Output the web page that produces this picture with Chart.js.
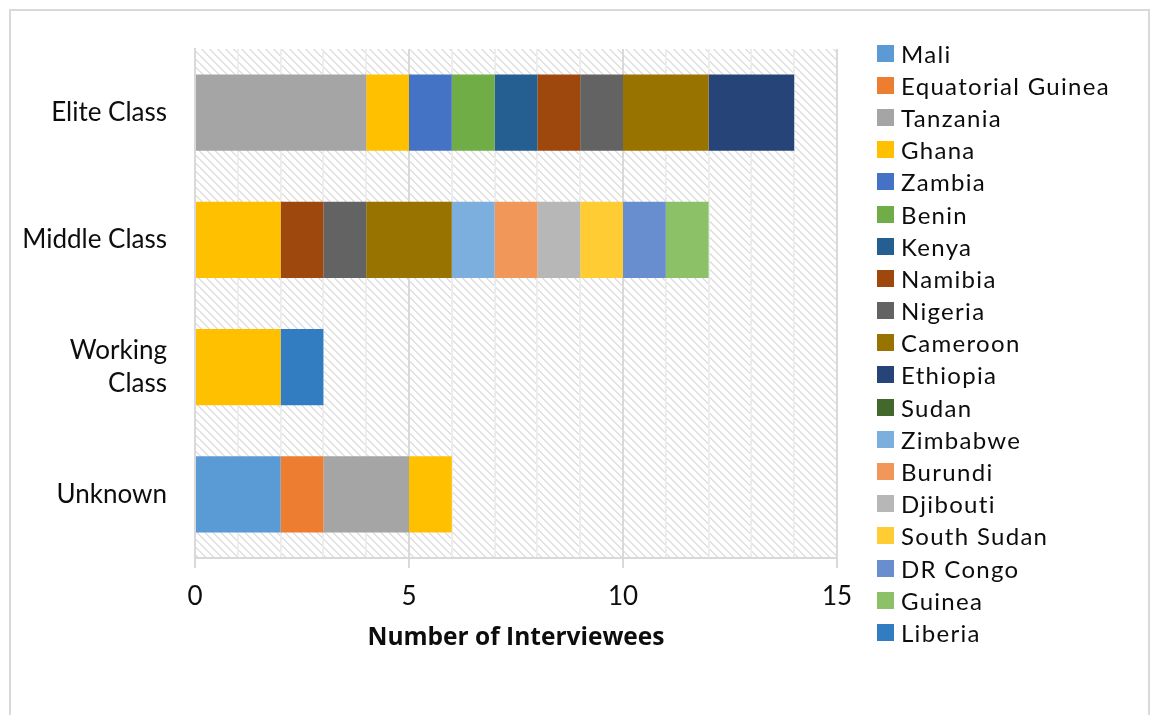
<!DOCTYPE html>
<html>
<head>
<meta charset="utf-8">
<script src="https://cdn.jsdelivr.net/npm/chart.js@4"></script>
<style>
  html, body { margin: 0; padding: 0; background: #fff; }
  body { width: 1151px; height: 715px; position: relative; overflow: hidden; font-family: Lato, sans-serif; }
  .frame { position: absolute; left: 9px; top: 9px; width: 1137px; height: 720px; border: 2px solid #d9d9d9; }
  #wrap { position: absolute; left: 0; top: 0; width: 1151px; height: 715px; }
  #legend { position: absolute; left: 877px; top: 37px; }
  #legend .item { display: flex; align-items: center; height: 32.2px; font-size: 24px; color: #0d0d0d; white-space: nowrap; letter-spacing: 1.3px; }
  #legend .sw { width: 17px; height: 17px; margin-right: 7px; flex: none; }
</style>
</head>
<body>
<div class="frame"></div>
<div id="wrap"><canvas id="chart" width="1151" height="715"></canvas></div>
<div id="legend"></div>
<script>
// classes on the vertical axis, top to bottom
const classes = ['Elite Class', 'Middle Class', ['Working', 'Class'], 'Unknown'];

// interviewees per country: [Elite, Middle, Working, Unknown]
const mali        = [0, 0, 0, 2];
const eqGuinea    = [0, 0, 0, 1];
const tanzania    = [4, 0, 0, 2];
const ghana       = [1, 2, 2, 1];
const zambia      = [1, 0, 0, 0];
const benin       = [1, 0, 0, 0];
const kenya       = [1, 0, 0, 0];
const namibia     = [1, 1, 0, 0];
const nigeria     = [1, 1, 0, 0];
const cameroon    = [2, 2, 0, 0];
const ethiopia    = [2, 0, 0, 0];
const sudan       = [0, 0, 0, 0];
const zimbabwe    = [0, 1, 0, 0];
const burundi     = [0, 1, 0, 0];
const djibouti    = [0, 1, 0, 0];
const southSudan  = [0, 1, 0, 0];
const drCongo     = [0, 1, 0, 0];
const guinea      = [0, 1, 0, 0];
const liberia     = [0, 0, 1, 0];

const countries = ['Mali', 'Equatorial Guinea', 'Tanzania', 'Ghana', 'Zambia', 'Benin', 'Kenya',
  'Namibia', 'Nigeria', 'Cameroon', 'Ethiopia', 'Sudan', 'Zimbabwe', 'Burundi', 'Djibouti',
  'South Sudan', 'DR Congo', 'Guinea', 'Liberia'];
const counts = [mali, eqGuinea, tanzania, ghana, zambia, benin, kenya, namibia, nigeria, cameroon,
  ethiopia, sudan, zimbabwe, burundi, djibouti, southSudan, drCongo, guinea, liberia];
const colors = ['#5B9BD5', '#ED7D31', '#A5A5A5', '#FFC000', '#4472C4', '#70AD47', '#255E91',
  '#9E480E', '#636363', '#997300', '#264478', '#43682B', '#7CAFDD', '#F1975A', '#B7B7B7',
  '#FFCD33', '#698ED0', '#8CC168', '#327DC2'];

const xTicks = [0, 5, 10, 15];

// light diagonal hatch behind the bars
function hatch(ctx) {
  const c = document.createElement('canvas');
  c.width = c.height = 8;
  const g = c.getContext('2d');
  g.fillStyle = '#fff';
  g.fillRect(0, 0, 8, 8);
  g.fillStyle = '#e0e0e0';
  for (let i = 0; i < 8; i++) {
    g.fillRect(i, i, 1, 1);
    g.fillRect((i + 1) % 8, i, 1, 1);
  }
  return ctx.createPattern(c, 'repeat');
}

const plotBg = {
  id: 'plotBg',
  beforeDraw(chart) {
    const { ctx, chartArea: a } = chart;
    ctx.save();
    ctx.fillStyle = hatch(ctx);
    ctx.fillRect(a.left, a.top, a.right - a.left, a.bottom - a.top);
    ctx.restore();
  }
};

const isMajor = v => xTicks.includes(v);
const txt = '#0d0d0d';

new Chart(document.getElementById('chart'), {
  type: 'bar',
  data: {
    labels: classes,
    datasets: countries.map((name, i) => ({
      label: name,
      data: counts[i],
      backgroundColor: colors[i],
      borderWidth: 0,
      barPercentage: 0.6,
      categoryPercentage: 1
    }))
  },
  options: {
    indexAxis: 'y',
    responsive: false,
    animation: false,
    devicePixelRatio: 1,
    layout: { padding: { left: 0, top: 49, right: 314, bottom: 62 } },
    plugins: { legend: { display: false }, tooltip: { enabled: false } },
    scales: {
      x: {
        stacked: true,
        min: 0,
        max: 15,
        afterFit: s => { s.height = 95; },
        ticks: {
          stepSize: 1,
          autoSkip: false,
          maxRotation: 0,
          padding: 13,
          color: txt,
          font: { family: 'Lato', size: 26 },
          callback: v => (isMajor(v) ? v : '')
        },
        grid: {
          color: c => (isMajor(c.tick.value) ? '#d9d9d9' : '#ededed'),
          lineWidth: 2,
          tickLength: 10,
          tickColor: c => (isMajor(c.tick.value) ? '#d9d9d9' : 'rgba(0,0,0,0)')
        },
        border: { display: true, color: '#d9d9d9', width: 2 },
        title: {
          display: true,
          text: 'Number of Interviewees',
          color: txt,
          font: { family: 'Open Sans', size: 24.5, weight: 'bold' },
          padding: 0
        }
      },
      y: {
        stacked: true,
        afterFit: s => { s.width = 195; },
        ticks: { padding: 28, color: txt, font: { family: 'Lato', size: 26, lineHeight: 1.3 } },
        grid: { display: false, drawTicks: false },
        border: { display: true, color: '#d9d9d9', width: 2 }
      }
    }
  },
  plugins: [plotBg]
});

// legend column on the right
const legend = document.getElementById('legend');
countries.forEach((name, i) => {
  const row = document.createElement('div');
  row.className = 'item';
  row.innerHTML = `<span class="sw" style="background:${colors[i]}"></span><span>${name}</span>`;
  legend.appendChild(row);
});
</script>
</body>
</html>
